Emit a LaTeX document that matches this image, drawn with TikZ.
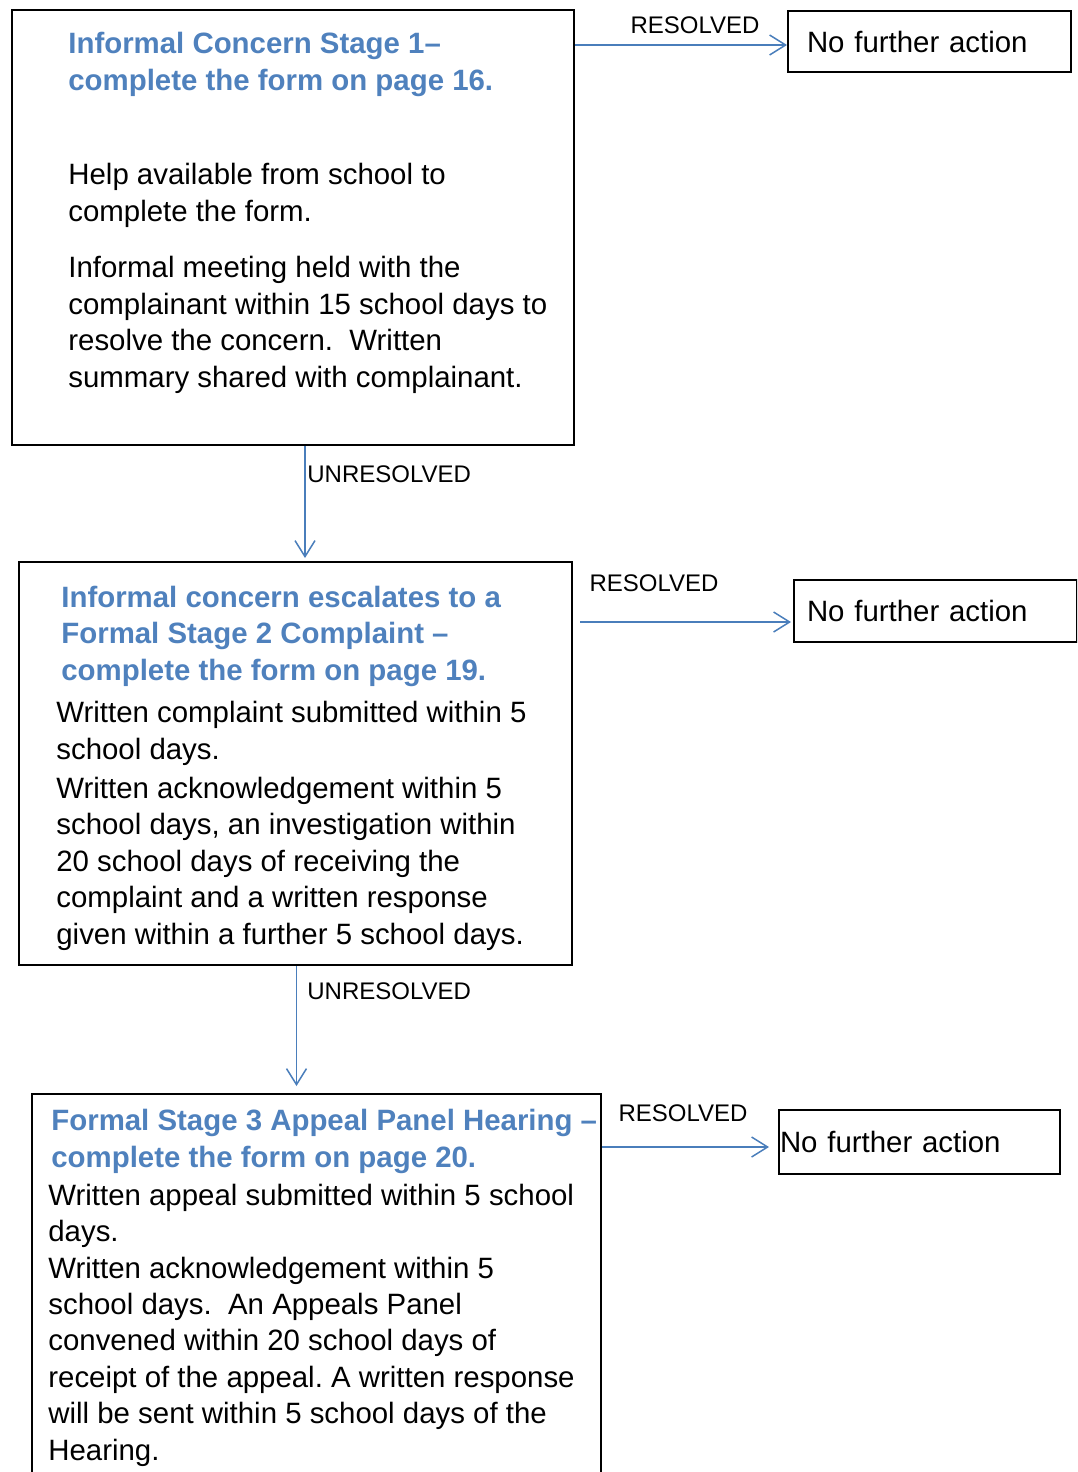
\documentclass[tikz,border=0pt]{standalone}
\usepackage{fontspec}
\setmainfont{Liberation Sans}
\usetikzlibrary{arrows.meta}
\frenchspacing
\definecolor{headblue}{HTML}{4F81BD}
\definecolor{lineblue}{HTML}{4A7EBB}
\newcommand{\bodyfont}{\fontsize{14.7pt}{18.2pt}\selectfont}
\newcommand{\headfont}{\fontsize{14.7pt}{18.2pt}\selectfont\bfseries}
\newcommand{\labelfont}{\fontsize{12pt}{14pt}\selectfont}
\tikzset{
  stagebox/.style={draw, line width=1pt, anchor=north west, inner sep=0pt},
  endbox/.style={draw, line width=1pt, anchor=north west, align=left, font=\bodyfont},
  headtext/.style={anchor=base west, inner sep=0pt, align=left, font=\headfont, text=headblue},
  bodytext/.style={anchor=base west, inner sep=0pt, align=left, font=\bodyfont},
  flowlabel/.style={inner sep=0pt, font=\labelfont},
  flow/.style={draw=lineblue, line width=0.75pt, -{Straight Barb[length=8pt,width=10pt]}}
}
\begin{document}
\begin{tikzpicture}[x=0.5pt,y=-0.5pt]
\clip (0,0) rectangle (1077,1472);
% stage boxes
\node[stagebox, minimum width=281pt, minimum height=217.5pt] (box1) at (11,9) {};
\node[stagebox, minimum width=276.5pt, minimum height=201.5pt] (box2) at (18,561) {};
\node[stagebox, minimum width=284.5pt, minimum height=220pt] (box3) at (31,1093) {};
% end boxes, edit here for the text indent
\node[endbox, minimum height=30.5pt, inner xsep=9.5pt, text width=122.5pt] (nfa1) at (787,10) {No further action};
\node[endbox, minimum height=31pt, inner xsep=6.5pt, text width=128.5pt] (nfa2) at (793,579) {No further action};
\node[endbox, minimum height=32pt, inner xsep=0.5pt, text width=139.5pt] (nfa3) at (778,1109) {No further action};
% stage 1 (y is the baseline of the last line)
\node[headtext] (head1) at (68,90) {Informal Concern Stage 1–\\complete the form on page 16.};
\node[bodytext] (help1) at (68,221) {Help available from school to\\complete the form.};
\node[bodytext] (meet1) at (68,387) {Informal meeting held with the\\complainant within 15 school days to\\resolve the concern.\ \ Written\\summary shared with complainant.};
% stage 2
\node[headtext] (head2) at (61,680) {Informal concern escalates to a\\Formal Stage 2 Complaint –\\complete the form on page 19.};
\node[bodytext] (body2) at (56,944) {Written complaint submitted within 5\\school days.\\[1.5pt]Written acknowledgement within 5\\school days, an investigation within\\20 school days of receiving the\\complaint and a written response\\given within a further 5 school days.};
% stage 3
\node[headtext] (head3) at (51,1167) {Formal Stage 3 Appeal Panel Hearing –\\complete the form on page 20.};
\node[bodytext] (body3) at (48,1460) {Written appeal submitted within 5 school\\days.\\Written acknowledgement within 5\\school days.\ \ An Appeals Panel\\convened within 20 school days of\\receipt of the appeal. A written response\\will be sent within 5 school days of the\\Hearing.};
% connectors
\draw[flow] ([yshift=-1.75pt]nfa1.west -| box1.east) -- ([yshift=-1.75pt]nfa1.west);
\draw[flow] ([xshift=3.5pt,yshift=-5.5pt]nfa2.west -| box2.east) -- ([xshift=-1pt,yshift=-5.5pt]nfa2.west);
\draw[flow] ([yshift=-2.5pt]nfa3.west -| box3.east) -- ([xshift=-4.5pt,yshift=-2.5pt]nfa3.west);
\draw[flow] ([xshift=6pt]box1.south) -- ([xshift=6pt,yshift=1.5pt]box1.south |- box2.north);
\draw[flow] ([xshift=0.5pt]box2.south) -- ([xshift=0.5pt,yshift=3.5pt]box2.south |- box3.north);
% labels
\node[flowlabel] (res1) at (695,25) {RESOLVED};
\node[flowlabel] (res2) at (654,583) {RESOLVED};
\node[flowlabel] (res3) at (683,1113) {RESOLVED};
\node[flowlabel, anchor=west] (unres1) at (307,474) {UNRESOLVED};
\node[flowlabel, anchor=west] (unres2) at (307,991) {UNRESOLVED};
\end{tikzpicture}
\end{document}
